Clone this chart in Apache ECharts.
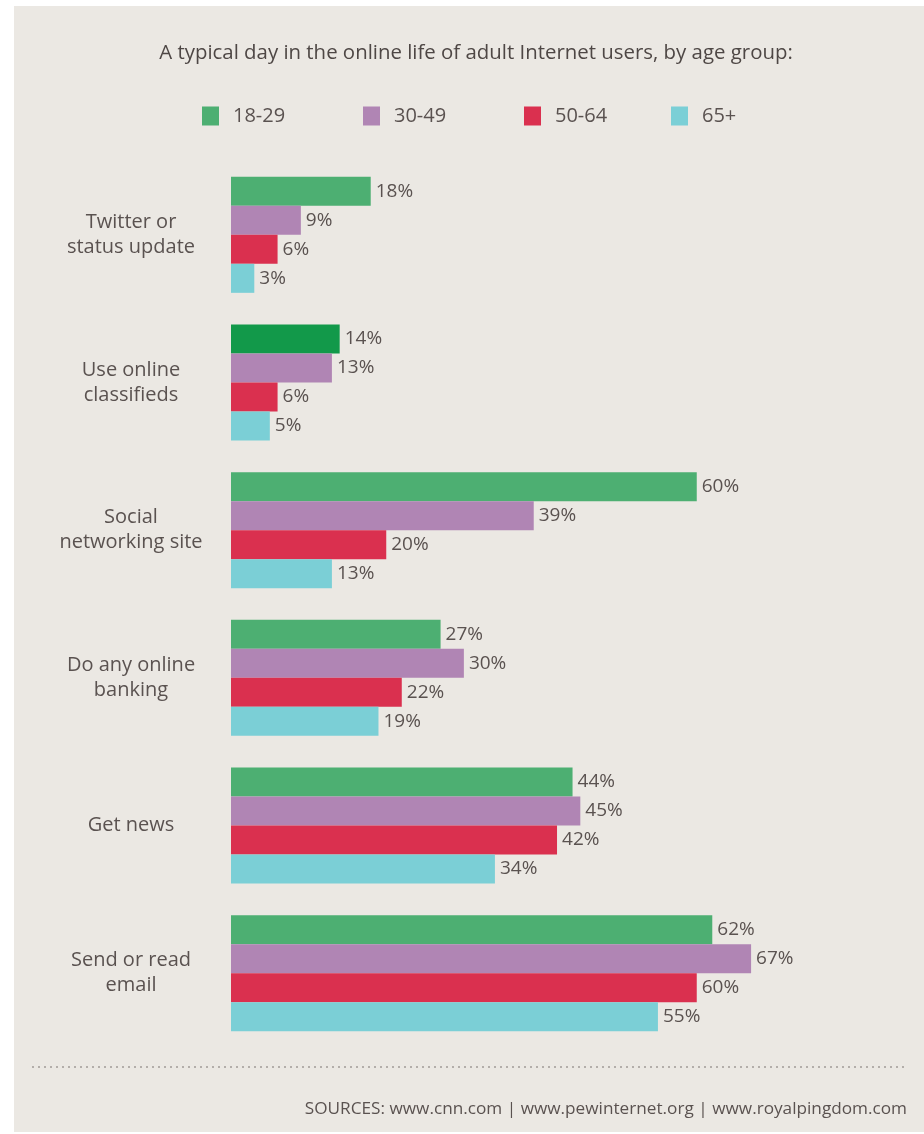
<!DOCTYPE html>
<html>
<head>
<meta charset="utf-8">
<script src="https://cdn.jsdelivr.net/npm/echarts@6/dist/echarts.min.js"></script>
<style>
  html, body { margin: 0; padding: 0; background: #ffffff; }
  #panel { position: absolute; left: 14px; top: 6px; width: 910px; height: 1126px; background: #ebe8e3; }
  #chart { position: absolute; left: 0; top: 0; width: 924px; height: 1134px; }
</style>
</head>
<body>
<div id="panel"></div>
<div id="chart"></div>
<script>
// Activities, top to bottom
const categories = [
  'Twitter or\nstatus update',
  'Use online\nclassifieds',
  'Social\nnetworking site',
  'Do any online\nbanking',
  'Get news',
  'Send or read\nemail'
];

// Age groups
const ageGroups = ['18-29', '30-49', '50-64', '65+'];

// Share of internet users doing each activity on a typical day (%)
const age18to29 = [18, 14, 60, 27, 44, 62];
const age30to49 = [9, 13, 39, 30, 45, 67];
const age50to64 = [6, 6, 20, 22, 42, 60];
const age65plus = [3, 5, 13, 19, 34, 55];

const colors = ['#4daf72', '#b085b4', '#da304f', '#7bcfd6'];
const highlightGreen = '#12994a';

const titleText = 'A typical day in the online life of adult Internet users, by age group:';
const sourceText = 'SOURCES: www.cnn.com | www.pewinternet.org | www.royalpingdom.com';

const FONT = '"Open Sans", sans-serif';
const TEXT = '#5a5250';

const seriesValues = [age18to29, age30to49, age50to64, age65plus];

const series = ageGroups.map((name, i) => ({
  name: name,
  type: 'bar',
  barWidth: 29,
  barGap: '0%',
  itemStyle: { color: colors[i] },
  data: seriesValues[i].map((v, j) => {
    // the classifieds bar of the youngest group is drawn in a deeper green
    if (i === 0 && j === 1) return { value: v, itemStyle: { color: highlightGreen } };
    return v;
  }),
  label: {
    show: true,
    position: 'right',
    distance: 5,
    formatter: '{c}%',
    color: TEXT,
    fontFamily: FONT,
    fontSize: 19
  }
}));

const legendLefts = [197, 358, 519, 666];
const legends = ageGroups.map((name, i) => ({
  data: [name],
  left: legendLefts[i],
  top: 101,
  icon: 'rect',
  itemWidth: 17,
  itemHeight: 19,
  selectedMode: false,
  textStyle: { color: TEXT, fontFamily: FONT, fontSize: 20, padding: [0, 0, 0, 9] }
}));

const chart = echarts.init(document.getElementById('chart'), null, { renderer: 'canvas' });
chart.setOption({
  backgroundColor: 'transparent',
  animation: false,
  title: [{
    text: titleText,
    left: 471,
    textAlign: 'center',
    top: 38,
    textStyle: { color: '#4e4745', fontFamily: FONT, fontSize: 20.4, fontWeight: 'normal' }
  }, {
    text: sourceText,
    right: 12,
    top: 1096,
    textStyle: { color: TEXT, fontFamily: FONT, fontSize: 17.2, fontWeight: 'normal' }
  }],
  legend: legends,
  grid: { left: 231, right: 72, top: 161, bottom: 87, containLabel: false },
  xAxis: {
    type: 'value',
    min: 0,
    max: 80,
    show: false
  },
  yAxis: {
    type: 'category',
    inverse: true,
    data: categories,
    axisLine: { show: false },
    axisTick: { show: false },
    axisLabel: {
      align: 'center',
      margin: 100,
      color: TEXT,
      fontFamily: FONT,
      fontSize: 20,
      lineHeight: 25
    }
  },
  graphic: [{
    type: 'line',
    silent: true,
    shape: { x1: 32, y1: 1067, x2: 906, y2: 1067 },
    style: { stroke: '#b3aeaa', lineWidth: 2, lineDash: [2, 4] }
  }],
  series: series
});
</script>
</body>
</html>
